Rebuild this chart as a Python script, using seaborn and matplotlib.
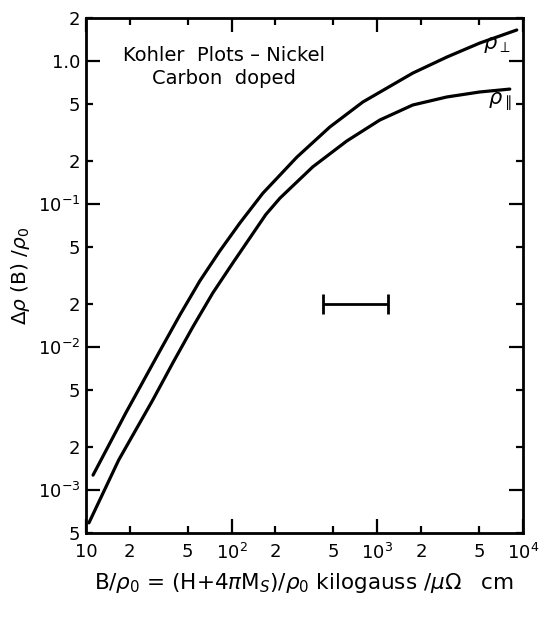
import numpy as np
import pandas as pd
import matplotlib
matplotlib.use("Agg")
import matplotlib.pyplot as plt
import seaborn as sns

# --- Data ---
perp_field = [11.2, 18.8, 32.2, 44.2, 60.6, 83.1, 114, 164, 281, 473, 796, 1754, 3006, 5059, 9080]
perp_rho = [1.27e-3, 3.46e-3, 9.38e-3, 0.01675, 0.0290, 0.0470, 0.0736, 0.119, 0.213, 0.346,
            0.517, 0.824, 1.067, 1.337, 1.65]

par_field = [10.5, 16.8, 28.8, 39.5, 54.2, 74.4, 102, 172, 215, 361, 618, 1042, 1754, 3006,
             5059, 8130]
par_rho = [5.89e-4, 1.62e-3, 4.26e-3, 7.73e-3, 0.0138, 0.0239, 0.0387, 0.0845, 0.110, 0.182,
           0.276, 0.387, 0.493, 0.561, 0.608, 0.637]

# horizontal uncertainty bar
bar_field_lo = 424
bar_field_hi = 1183
bar_rho = 0.02

x_major = [10, 100, 1000, 10000]
x_major_labels = ["10", "$10^2$", "$10^3$", "$10^4$"]
x_minor = [20, 50, 200, 500, 2000, 5000]
x_minor_labels = ["2", "5", "2", "5", "2", "5"]

y_major = [1e-3, 1e-2, 1e-1, 1.0]
y_major_labels = ["$10^{-3}$", "$10^{-2}$", "$10^{-1}$", "1.0"]
y_minor = [5e-4, 2e-3, 5e-3, 2e-2, 5e-2, 0.2, 0.5, 2]
y_minor_labels = ["5", "2", "5", "2", "5", "2", "5", "2"]

df = pd.concat([
    pd.DataFrame({"field": perp_field, "rho": perp_rho, "orient": "perp"}),
    pd.DataFrame({"field": par_field, "rho": par_rho, "orient": "par"}),
])

# --- Style ---
sns.set_style("ticks")
plt.rcParams["font.family"] = ["DejaVu Sans"]
plt.rcParams["mathtext.fontset"] = "dejavusans"
for key in ["text.color", "axes.labelcolor", "xtick.color", "ytick.color"]:
    plt.rcParams[key] = "black"

fig = plt.figure(figsize=(5.4, 6.18), dpi=100)
ax = fig.add_axes([0.159, 0.1375, 0.8093, 0.8333])

sns.lineplot(data=df, x="field", y="rho", units="orient", estimator=None,
             color="black", linewidth=2.3, sort=True, legend=False, ax=ax,
             solid_joinstyle="round", solid_capstyle="round")

center = np.sqrt(bar_field_lo * bar_field_hi)
ax.errorbar([center], [bar_rho], xerr=[[center - bar_field_lo], [bar_field_hi - center]],
            fmt="none", ecolor="black", elinewidth=2.0, capsize=7, capthick=2.0)

ax.set_xscale("log")
ax.set_yscale("log")
ax.set_xlim(10, 10000)
ax.set_ylim(5e-4, 2)

ax.set_xticks(x_major, x_major_labels)
ax.set_xticks(x_minor, x_minor_labels, minor=True)
ax.set_yticks(y_major, y_major_labels)
ax.set_yticks(y_minor, y_minor_labels, minor=True)

ax.tick_params(which="both", direction="in", top=True, right=True,
               labelsize=13, color="black", width=1.6)
ax.tick_params(which="major", length=10)
ax.tick_params(which="minor", length=5)
ax.tick_params(axis="x", which="both", pad=7)
ax.tick_params(axis="y", which="both", pad=4)

for s in ax.spines.values():
    s.set_linewidth(2.0)
    s.set_color("black")

ax.set_xlabel(r"B$/\rho_0$ = (H$+4\pi$M$_S$)$/\rho_0$ kilogauss $/\mu\Omega$   cm",
              fontsize=15.5, labelpad=6)
ax.set_ylabel(r"$\Delta\rho$ (B) $/\rho_0$", fontsize=14.5, labelpad=4)

ax.text(0.316, 0.945, "Kohler  Plots – Nickel\nCarbon  doped", transform=ax.transAxes,
        ha="center", va="top", fontsize=14, linespacing=1.25)
ax.text(6600, 1.3, r"$\rho_\perp$", fontsize=15, ha="center", va="center")
ax.text(6900, 0.52, r"$\rho_{\parallel}$", fontsize=15, ha="center", va="center")

fig.savefig("out.png", dpi=100, facecolor="white")
